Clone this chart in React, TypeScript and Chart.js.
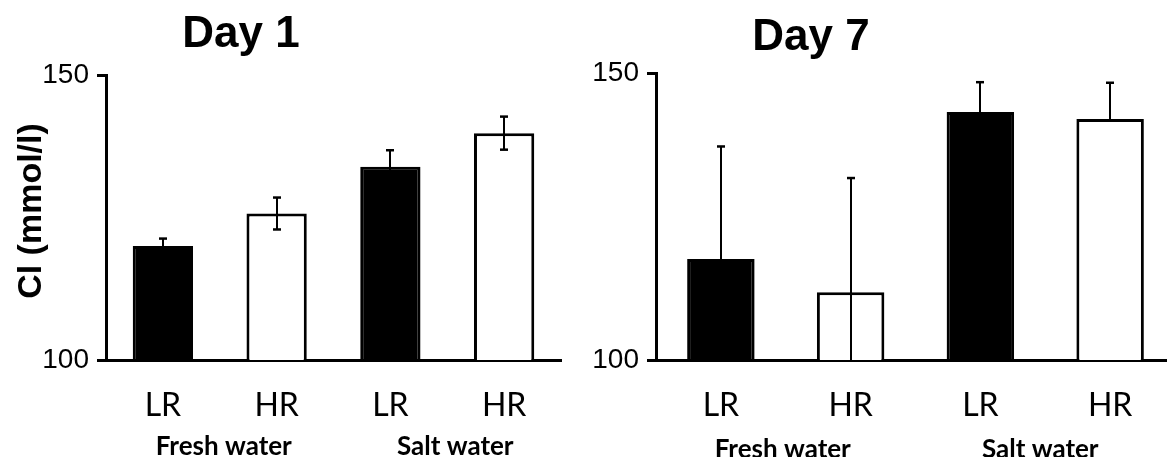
import React, { useEffect, useRef } from 'react';
import { Chart, registerables } from 'chart.js';

Chart.register(...registerables);

// ---- data ----
const categories = ['LR', 'HR', 'LR', 'HR'];
const groups = ['Fresh water', 'Salt water'];
const yTicks = [100, 150];
const yAxisLabel = 'Cl (mmol/l)';

const day1Title = 'Day 1';
const day1Values = [120.0, 125.7, 133.9, 139.8];
const day1ErrUp = [1.3, 2.8, 2.9, 2.9];
const day1ErrDown = [1.3, 2.8, 2.9, 2.9];

const day7Title = 'Day 7';
const day7Values = [117.6, 111.8, 143.2, 142.0];
const day7ErrUp = [19.6, 19.9, 5.2, 6.3];
const day7ErrDown = [0, 19.9, 0, 0];

const barFill = ['#000000', '#ffffff', '#000000', '#ffffff'];

const annotate = {
  id: 'annotate',
  afterDatasetsDraw(chart: any, _args: any, opts: any) {
    const { ctx, scales, chartArea } = chart;
    const xs = scales.x;
    const ys = scales.y;
    const vals = chart.data.datasets[0].data as number[];
    ctx.save();
    ctx.beginPath();
    ctx.rect(chartArea.left, chartArea.top - 20, chartArea.right - chartArea.left, chartArea.bottom - chartArea.top + 20);
    ctx.clip();
    ctx.strokeStyle = '#000000';
    ctx.lineWidth = 2;
    const cap = opts.capHalf;
    for (let i = 0; i < vals.length; i++) {
      const v = vals[i];
      const px = Math.round(xs.getPixelForValue(i));
      const up = opts.up[i] || 0;
      const down = opts.down[i] || 0;
      const yTop = ys.getPixelForValue(v + up);
      const yBot = ys.getPixelForValue(Math.max(v - down, ys.min));
      const yMid = ys.getPixelForValue(v);
      ctx.beginPath();
      ctx.moveTo(px, up > 0 ? yTop : yMid);
      ctx.lineTo(px, down > 0 ? yBot : yMid);
      ctx.stroke();
      ctx.lineWidth = 2.5;
      if (up > 0) {
        ctx.beginPath();
        ctx.moveTo(px - cap, yTop);
        ctx.lineTo(px + cap, yTop);
        ctx.stroke();
      }
      if (down > 0 && v - down > ys.min) {
        ctx.beginPath();
        ctx.moveTo(px - cap, yBot);
        ctx.lineTo(px + cap, yBot);
        ctx.stroke();
      }
      ctx.lineWidth = 2;
    }
    ctx.restore();
  },
  afterDraw(chart: any, _args: any, opts: any) {
    const { ctx, scales } = chart;
    const xs = scales.x;
    ctx.save();
    ctx.fillStyle = '#000';
    // title
    ctx.font = 'bold 44px "Liberation Sans", Arial, sans-serif';
    ctx.textAlign = 'center';
    ctx.textBaseline = 'alphabetic';
    ctx.fillText(opts.title, opts.titleX, opts.titleY);
    // group labels
    ctx.font = 'bold 26px Lato, "Noto Sans", sans-serif';
    for (let g = 0; g < groups.length; g++) {
      const cx = (xs.getPixelForValue(g * 2) + xs.getPixelForValue(g * 2 + 1)) / 2;
      ctx.fillText(groups[g], cx + opts.groupDx[g], opts.groupY);
    }
    // y axis label
    if (opts.yLabel) {
      ctx.translate(opts.yLabelX, opts.yLabelY);
      ctx.rotate(-Math.PI / 2);
      ctx.font = 'bold 34px "Liberation Sans", Arial, sans-serif';
      ctx.textAlign = 'center';
      ctx.textBaseline = 'alphabetic';
      ctx.fillText(opts.yLabel, 0, 0);
    }
    ctx.restore();
  },
};

type PanelProps = {
  left: number;
  width: number;
  areaLeft: number;
  areaTop: number;
  areaBottom: number;
  padRight: number;
  values: number[];
  errUp: number[];
  errDown: number[];
  title: string;
  titleX: number;
  titleY: number;
  barPct: number;
  groupY: number;
  groupDx: number[];
  yLabel: string;
  labelPad: number;
};

function Panel(p: PanelProps) {
  const ref = useRef<HTMLCanvasElement | null>(null);
  useEffect(() => {
    if (!ref.current) return;
    const H = 457;
    const chart = new Chart(ref.current, {
      type: 'bar',
      data: {
        labels: categories,
        datasets: [
          {
            data: p.values,
            backgroundColor: barFill,
            borderColor: '#000000',
            borderWidth: 3,
            barPercentage: p.barPct,
            categoryPercentage: 1,
          },
        ],
      },
      options: {
        animation: false,
        responsive: false,
        devicePixelRatio: 1,
        layout: { padding: { top: p.areaTop, left: 0, right: p.padRight, bottom: 0 } },
        plugins: {
          legend: { display: false },
          tooltip: { enabled: false },
          title: { display: false },
          annotate: {
            up: p.errUp,
            down: p.errDown,
            capHalf: 4,
            title: p.title,
            titleX: p.titleX,
            titleY: p.titleY,
            groupY: p.groupY,
            groupDx: p.groupDx,
            yLabel: p.yLabel,
            yLabelX: 41,
            yLabelY: 211,
          },
        } as any,
        scales: {
          x: {
            type: 'category',
            offset: true,
            grid: { display: false, drawTicks: false },
            border: { display: true, color: '#000000', width: 3 },
            ticks: {
              color: '#000000',
              font: { family: 'Lato, "Noto Sans", sans-serif', size: 32 },
              padding: p.labelPad,
              maxRotation: 0,
              autoSkip: false,
            },
            afterFit: (s: any) => {
              s.height = H - p.areaBottom;
            },
          },
          y: {
            min: 100,
            max: 150,
            afterBuildTicks: (s: any) => {
              s.ticks = yTicks.map((v) => ({ value: v }));
            },
            grid: {
              display: true,
              drawOnChartArea: false,
              drawTicks: true,
              tickLength: 9,
              color: '#000000',
              lineWidth: 3,
            },
            border: { display: true, color: '#000000', width: 3 },
            ticks: {
              color: '#000000',
              font: { family: '"Liberation Sans", Arial, sans-serif', size: 28 },
              padding: 8,
            },
            afterFit: (s: any) => {
              s.width = p.areaLeft;
            },
          },
        },
      },
      plugins: [annotate as any],
    });
    return () => chart.destroy();
  }, []);
  return (
    <canvas
      ref={ref}
      width={p.width}
      height={457}
      style={{ position: 'absolute', left: p.left, top: 0, width: p.width, height: 457 }}
    />
  );
}

export default function App() {
  return (
    <div
      style={{
        position: 'fixed',
        left: 0,
        top: 0,
        width: 1167,
        height: 457,
        overflow: 'hidden',
        background: '#ffffff',
      }}
    >
      <Panel
        left={0}
        width={580}
        areaLeft={106}
        areaTop={75}
        areaBottom={360}
        padRight={19}
        values={day1Values}
        errUp={day1ErrUp}
        errDown={day1ErrDown}
        title={day1Title}
        titleX={241}
        titleY={47}
        barPct={0.53}
        groupY={455}
        groupDx={[4, 8]}
        yLabel={yAxisLabel}
        labelPad={26}
      />
      <Panel
        left={580}
        width={595}
        areaLeft={76}
        areaTop={73}
        areaBottom={360}
        padRight={0}
        values={day7Values}
        errUp={day7ErrUp}
        errDown={day7ErrDown}
        title={day7Title}
        titleX={231}
        titleY={50}
        barPct={0.52}
        groupY={458}
        groupDx={[-3, -5]}
        yLabel={''}
        labelPad={26}
      />
    </div>
  );
}
